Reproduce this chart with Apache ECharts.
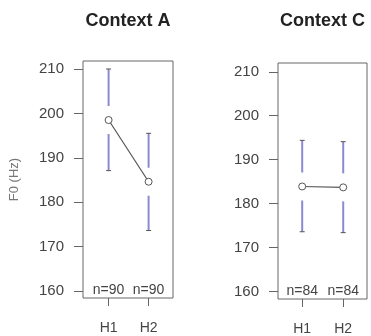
<!DOCTYPE html>
<html>
<head>
<meta charset="utf-8">
<script src="https://cdn.jsdelivr.net/npm/echarts@6/dist/echarts.min.js"></script>
<style>
  html, body { margin: 0; padding: 0; background: #fff; }
  #main { width: 371px; height: 336px; }
</style>
</head>
<body>
<div id="main"></div>
<script>
// groups on the x axis
const groups = ['H1', 'H2'];
const yTicks = [160, 170, 180, 190, 200, 210];

// Context A: means and confidence limits
const meanA = [198.5, 184.6];
const lowA = [187.1, 173.6];
const highA = [210.0, 195.5];
const nA = [90, 90];

// Context C
const meanC = [183.9, 183.7];
const lowC = [173.6, 173.4];
const highC = [194.4, 194.1];
const nC = [84, 84];

const FONT = 'Liberation Sans, Arial, sans-serif';
const barColor = '#8a8ad2';
const inkColor = '#555';

function barData(mean, low, high) {
  return mean.map((m, i) => [i + 1, low[i], m, high[i]]);
}

// error bars with a gap round the mean, like plotmeans
function renderBar(params, api) {
  const x = api.value(0);
  const top = api.coord([x, api.value(3)]);
  const mid = api.coord([x, api.value(2)]);
  const bot = api.coord([x, api.value(1)]);
  const gap = 14, cap = 2.5;
  return {
    type: 'group',
    children: [
      { type: 'line', shape: { x1: top[0], y1: top[1], x2: mid[0], y2: mid[1] - gap },
        style: { stroke: barColor, lineWidth: 2 } },
      { type: 'line', shape: { x1: mid[0], y1: mid[1] + gap, x2: bot[0], y2: bot[1] },
        style: { stroke: barColor, lineWidth: 2 } },
      { type: 'line', shape: { x1: top[0] - cap, y1: top[1], x2: top[0] + cap, y2: top[1] },
        style: { stroke: inkColor, lineWidth: 1 } },
      { type: 'line', shape: { x1: bot[0] - cap, y1: bot[1], x2: bot[0] + cap, y2: bot[1] },
        style: { stroke: inkColor, lineWidth: 1 } }
    ]
  };
}

function nLabels(ns, ymin) {
  return ns.map((n, i) => [i + 1, ymin, n]);
}

function renderN(params, api) {
  const p = api.coord([api.value(0), api.value(1)]);
  return {
    type: 'text',
    x: p[0], y: p[1] - 1,
    style: { text: 'n=' + api.value(2), textAlign: 'center', textVerticalAlign: 'bottom',
      font: '14px ' + FONT, fill: '#444' }
  };
}

const panels = [
  { title: 'Context A', left: 83, top: 61, width: 90, height: 237, xmin: 0.36, xmax: 2.61, ymin: 158.4, ymax: 211.8,
    mean: meanA, low: lowA, high: highA, n: nA, yname: 'F0 (Hz)' },
  { title: 'Context C', left: 278, top: 63, width: 89, height: 237, xmin: 0.41, xmax: 2.58, ymin: 158.3, ymax: 212.0,
    mean: meanC, low: lowC, high: highC, n: nC, yname: '' }
];

const myChart = echarts.init(document.getElementById('main'));

const option = {
  animation: false,
  backgroundColor: '#fff',
  textStyle: { fontFamily: FONT },
  title: panels.map(p => ({
    text: p.title,
    left: p.left + p.width / 2,
    top: 12,
    textAlign: 'center',
    padding: 0,
    textStyle: { fontSize: 18, fontWeight: 'bold', color: '#222', fontFamily: FONT }
  })),
  grid: panels.map(p => ({
    left: p.left, top: p.top, width: p.width, height: p.height,
    show: true, borderColor: '#666', borderWidth: 1, backgroundColor: 'transparent'
  })),
  xAxis: panels.map((p, i) => ({
    type: 'value', gridIndex: i, min: p.xmin, max: p.xmax,
    splitLine: { show: false },
    axisLine: { show: false },
    axisTick: { show: true, length: 8, customValues: [1, 2], lineStyle: { color: '#666' } },
    axisLabel: { customValues: [1, 2], margin: 23, fontSize: 14, color: '#444', fontFamily: FONT,
      formatter: v => groups[Math.round(v) - 1] }
  })),
  yAxis: panels.map((p, i) => ({
    type: 'value', gridIndex: i, min: p.ymin, max: p.ymax,
    name: p.yname, nameLocation: 'middle', nameGap: 62, nameRotate: 90,
    nameTextStyle: { fontSize: 13, color: '#777', fontFamily: FONT },
    splitLine: { show: false },
    axisLine: { show: false },
    axisTick: { show: true, length: 9, customValues: yTicks, lineStyle: { color: '#666' } },
    axisLabel: { customValues: yTicks, margin: 19, fontSize: 15, color: '#444', fontFamily: FONT }
  })),
  series: []
};

panels.forEach((p, i) => {
  option.series.push({
    type: 'custom', xAxisIndex: i, yAxisIndex: i,
    data: barData(p.mean, p.low, p.high),
    encode: { x: 0, y: [1, 2, 3] },
    renderItem: renderBar, z: 2
  });
  option.series.push({
    type: 'line', xAxisIndex: i, yAxisIndex: i,
    data: p.mean.map((m, k) => [k + 1, m]),
    symbol: 'circle', symbolSize: 7, showSymbol: true,
    itemStyle: { color: '#fff', borderColor: inkColor, borderWidth: 1 },
    lineStyle: { color: inkColor, width: 1.2 },
    z: 3
  });
  option.series.push({
    type: 'custom', xAxisIndex: i, yAxisIndex: i,
    data: nLabels(p.n, p.ymin),
    encode: { x: 0, y: 1 },
    renderItem: renderN, z: 4
  });
});

myChart.setOption(option);
</script>
</body>
</html>
